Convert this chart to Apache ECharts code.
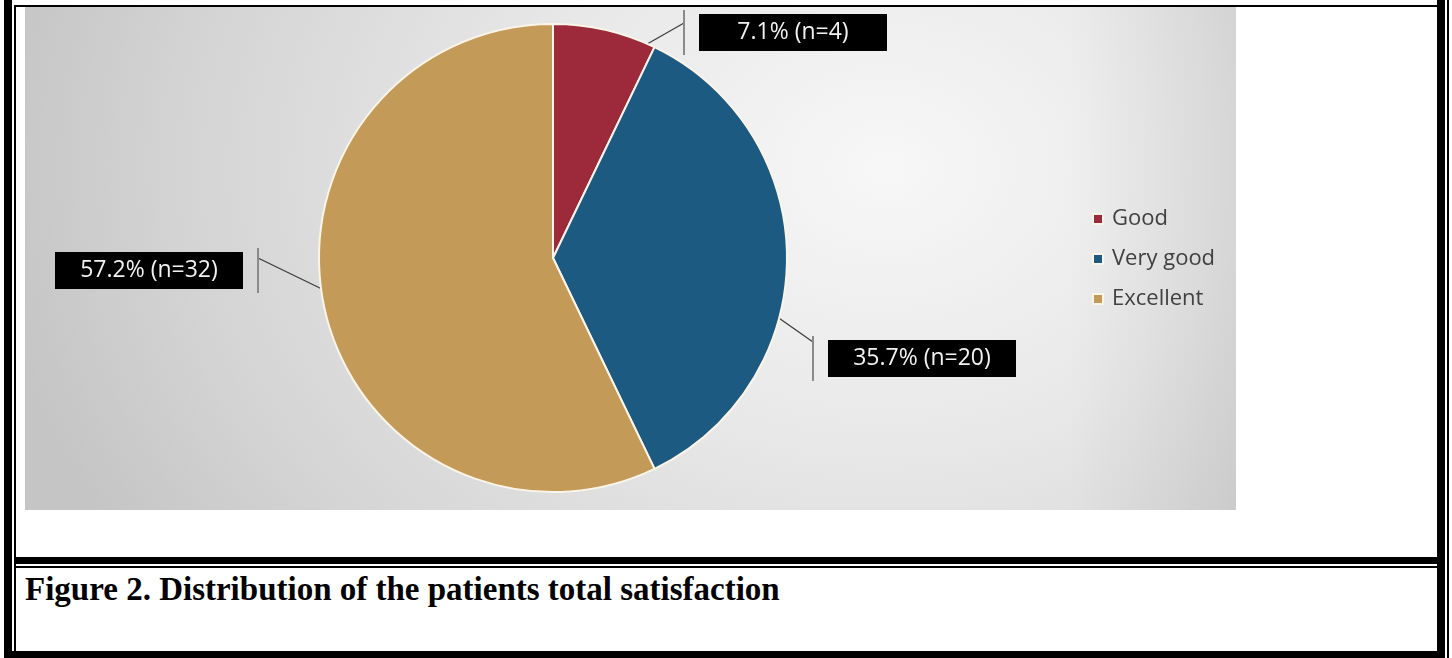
<!DOCTYPE html>
<html>
<head>
<meta charset="utf-8">
<script src="https://cdn.jsdelivr.net/npm/echarts@6/dist/echarts.min.js"></script>
<style>
html, body { margin: 0; padding: 0; background: #fff; }
#page { position: relative; width: 1452px; height: 658px; overflow: hidden; }
.ln { position: absolute; background: #000; z-index: 2; }
#chart {
  position: absolute; left: 25px; top: 7px; width: 1211px; height: 503px;
  background:
    linear-gradient(to right, rgba(0,0,0,0) 86%, rgba(0,0,0,0.08) 100%),
    radial-gradient(ellipse 900px 700px at 860px 160px, #f7f7f7 0%, #e8e8e8 40%, #d4d4d4 78%, #c5c5c5 100%);
}
#caption {
  position: absolute; left: 25px; top: 573px;
  font-family: "Liberation Serif", "Times New Roman", serif;
  font-weight: bold; font-size: 33px; line-height: 33px; color: #000; white-space: nowrap;
}
</style>
</head>
<body>
<div id="page">
  <!-- 表格边框 -->
  <div class="ln" style="left:4px;top:0;width:8px;height:658px"></div>
  <div class="ln" style="left:14px;top:5px;width:2px;height:653px"></div>
  <div class="ln" style="left:14px;top:5px;width:1423px;height:2px"></div>
  <div class="ln" style="left:1437px;top:0;width:8px;height:658px"></div>
  <div class="ln" style="left:1447px;top:0;width:2px;height:658px"></div>
  <div class="ln" style="left:14px;top:557px;width:1431px;height:7px"></div>
  <div class="ln" style="left:14px;top:566px;width:1431px;height:2px"></div>
  <div class="ln" style="left:4px;top:651px;width:1441px;height:7px"></div>

  <div id="chart"></div>
  <div id="caption">Figure 2. Distribution of the patients total satisfaction</div>
</div>

<script>
// 数据
const categories = ['Good', 'Very good', 'Excellent'];
const counts = [4, 20, 32];
const percentLabels = ['7.1%', '35.7%', '57.2%'];

// 颜色
const sliceColors = ['#9d2a3b', '#1d5a81', '#c49a58'];

// 饼图位置 (相对图表容器)
const pieCenter = [528, 251];
const pieRadius = 234;

// 标签位置: 竖线位置, 引导线起点角度 / 半径比例
const labelPos = [
  { barX: 658, barY: 25.5, meetY: 16, angle: 69, r: 0.94, right: false },
  { barX: 787, barY: 351.5, meetY: 335, angle: -12.8, r: 0.91, right: false },
  { barX: 234, barY: 263.5, meetY: 251, angle: 189.5, r: 0.95, right: true },
];

const myChart = echarts.init(document.getElementById('chart'));

const option = {
  animation: false,
  color: sliceColors,
  legend: {
    orient: 'vertical',
    left: 1062,
    top: 196,
    padding: 5,
    icon: 'rect',
    itemWidth: 10,
    itemHeight: 10,
    itemGap: 18,
    selectedMode: false,
    data: categories,
    textStyle: {
      fontFamily: 'Open Sans',
      fontSize: 22,
      color: '#404040',
      padding: [0, 0, 0, 4],
    },
  },
  series: [
    {
      type: 'pie',
      center: pieCenter,
      radius: pieRadius,
      startAngle: 90,
      clockwise: true,
      avoidLabelOverlap: false,
      emphasis: { disabled: true },
      itemStyle: {
        borderColor: '#fbf4e8',
        borderWidth: 2,
      },
      label: {
        show: true,
        position: 'outside',
        alignTo: 'none',
        formatter: function (params) {
          const txt = percentLabels[params.dataIndex] + ' (n=' + params.value + ')';
          if (labelPos[params.dataIndex].right) {
            return '{box|' + txt + '}{gap|}{bar|}';
          }
          return '{bar|}{gap|}{box|' + txt + '}';
        },
        rich: {
          box: {
            width: 188,
            height: 37,
            lineHeight: 37,
            align: 'center',
            backgroundColor: '#000',
            color: '#f2f2f2',
            fontFamily: 'Open Sans',
            fontSize: 23,
          },
          gap: { width: 14, height: 45 },
          bar: { width: 2, height: 45, backgroundColor: '#8a8a8a' },
        },
      },
      labelLine: {
        show: true,
        length: 10,
        length2: 10,
        lineStyle: { color: '#3a3a3a', width: 1.2 },
      },
      labelLayout: function (params) {
        const p = labelPos[params.dataIndex];
        const a = (p.angle * Math.PI) / 180;
        const sx = pieCenter[0] + Math.cos(a) * pieRadius * p.r;
        const sy = pieCenter[1] - Math.sin(a) * pieRadius * p.r;
        const mx = p.right ? p.barX - 1 : p.barX + 1;
        return {
          x: p.barX,
          y: p.barY,
          align: p.right ? 'right' : 'left',
          verticalAlign: 'middle',
          labelLinePoints: [[sx, sy], [mx, p.meetY]],
        };
      },
      data: categories.map(function (name, i) {
        return { name: name, value: counts[i] };
      }),
    },
  ],
};

myChart.setOption(option);
</script>
</body>
</html>
